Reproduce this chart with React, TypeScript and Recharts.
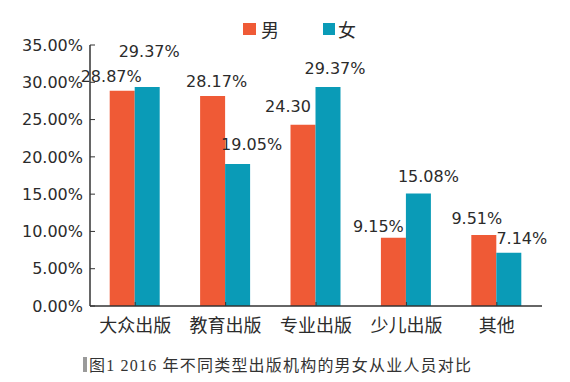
import React from 'react';
import { BarChart, Bar, XAxis, YAxis, LabelList } from 'recharts';

// categories and values (percent)
const categories = ['大众出版', '教育出版', '专业出版', '少儿出版', '其他'];
const maleValues = [28.87, 28.17, 24.3, 9.15, 9.51];
const femaleValues = [29.37, 19.05, 29.37, 15.08, 7.14];
const maleLabels = ['28.87%', '28.17%', '24.30', '9.15%', '9.51%'];
const femaleLabels = ['29.37%', '19.05%', '29.37%', '15.08%', '7.14%'];
const yTicks = [0, 5, 10, 15, 20, 25, 30, 35];

// label nudges (dx, dy from bar top centre), as placed in the original figure
const maleNudge = [[-11, -14], [4, -14], [-15, -18], [-15, -11], [-7, -17]];
const femaleNudge = [[2, -35], [14, -19], [7, -18], [10, -17], [13, -14]];

const MALE = '#EF5A36';
const FEMALE = '#0A9BB7';
const TEXT = '#2b2b2b';
const NUM_FONT = '"DejaVu Sans", sans-serif';
const CJK_FONT = '"Noto Sans CJK SC", sans-serif';
const CAPTION_FONT = '"Liberation Serif", "Noto Sans CJK SC", serif';

const data = categories.map((c, i) => ({
  name: c,
  male: maleValues[i],
  female: femaleValues[i],
  maleLabel: maleLabels[i],
  femaleLabel: femaleLabels[i],
}));

const makeLabel = (labels: string[], nudge: number[][]) => (props: any) => {
  const { x, y, width, index } = props;
  const [dx, dy] = nudge[index];
  return (
    <text
      x={x + width / 2 + dx}
      y={y + dy}
      textAnchor="middle"
      dominantBaseline="central"
      fontFamily={NUM_FONT}
      fontSize={16}
      fill={TEXT}
    >
      {labels[index]}
    </text>
  );
};

const CategoryTick = (props: any) => {
  const { x, y, payload } = props;
  return (
    <text x={x} y={y + 20} textAnchor="middle" dominantBaseline="central" fontFamily={CJK_FONT} fontSize={18} fill={TEXT}>
      {payload.value}
    </text>
  );
};

const App: React.FC = () => {
  return (
    <div style={{ position: 'absolute', left: 0, top: 0, width: 570, height: 382, background: '#fff' }}>
      {/* legend */}
      <div style={{ position: 'absolute', top: 16, left: 243, display: 'flex', alignItems: 'center', fontFamily: CJK_FONT, fontSize: 18, color: TEXT }}>
        <span style={{ width: 13, height: 12, background: MALE, display: 'inline-block', marginRight: 5 }} />
        <span>男</span>
        <span style={{ width: 12, height: 12, background: FEMALE, display: 'inline-block', marginLeft: 44, marginRight: 3 }} />
        <span>女</span>
      </div>

      <BarChart
        width={570}
        height={382}
        data={data}
        margin={{ top: 45, right: 28, bottom: 46, left: 0 }}
        barGap={0}
        barCategoryGap="21.8%"
      >
        <XAxis
          dataKey="name"
          axisLine={{ stroke: '#333', strokeWidth: 1.5 }}
          tickLine={{ stroke: '#333' }}
          tickSize={-4}
          height={30}
          tick={<CategoryTick />}
          interval={0}
        />
        <YAxis
          domain={[0, 35]}
          ticks={yTicks}
          width={90}
          axisLine={{ stroke: '#333', strokeWidth: 1.5 }}
          tickLine={{ stroke: '#333' }}
          tickSize={-5}
          tickMargin={12}
          tickFormatter={(v: number) => `${v.toFixed(2)}%`}
          tick={{ fontFamily: NUM_FONT, fontSize: 16, fill: TEXT }}
        />
        <Bar dataKey="male" fill={MALE} isAnimationActive={false}>
          <LabelList dataKey="maleLabel" content={makeLabel(maleLabels, maleNudge)} />
        </Bar>
        <Bar dataKey="female" fill={FEMALE} isAnimationActive={false}>
          <LabelList dataKey="femaleLabel" content={makeLabel(femaleLabels, femaleNudge)} />
        </Bar>
      </BarChart>

      {/* caption */}
      <div style={{ position: 'absolute', top: 352, left: 83, display: 'flex', alignItems: 'center', fontFamily: CAPTION_FONT, fontSize: 16, letterSpacing: 1.2, color: '#333', whiteSpace: 'pre' }}>
        <span style={{ width: 4, height: 15, background: '#9a9a9a', display: 'inline-block', marginRight: 2 }} />
        <span>图1 2016 年不同类型出版机构的男女从业人员对比</span>
      </div>
    </div>
  );
};

export default App;
